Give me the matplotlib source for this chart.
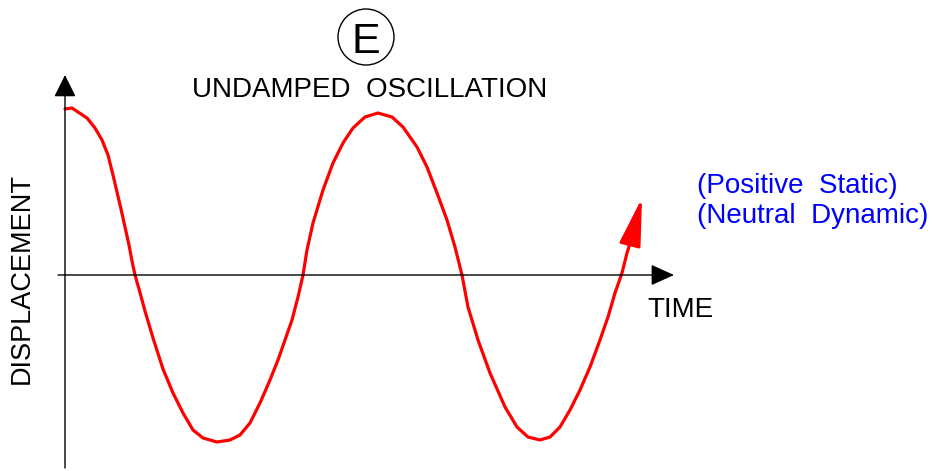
import matplotlib
matplotlib.use("Agg")
import matplotlib.pyplot as plt
from matplotlib.patches import Circle

plt.rcParams['font.family'] = ['Liberation Sans', 'DejaVu Sans']

# Curve (time, displacement), origin at the axis crossing
time = [0, 7, 13, 22, 30, 37, 43, 48, 52, 56, 60, 64, 67, 70, 74, 80, 88, 98,
        108, 118, 128, 138, 152, 165, 175, 185, 195, 205, 213, 220, 227, 233,
        238, 242, 248, 258, 268, 278, 288, 300, 313, 327, 338, 352, 362, 372,
        382, 390, 397, 403, 413, 425, 440, 452, 463, 475, 485, 495, 505, 515,
        525, 535, 543, 550, 557, 562, 567]
displacement = [166, 167, 163, 157, 147, 135, 120, 100, 83, 66, 48, 30, 14, 0,
                -14, -36, -63, -94, -118, -138, -155, -163, -167, -165, -160,
                -148, -128, -105, -85, -65, -45, -22, 0, 25, 52, 85, 112, 132,
                147, 158, 162, 158, 148, 128, 108, 82, 55, 28, 0, -32, -65, -98,
                -132, -152, -162, -165, -162, -152, -135, -115, -92, -65, -42,
                -18, 2, 22, 38]
arrow_tip = (577, 77)

title = "UNDAMPED  OSCILLATION"
badge = "E"
xlabel = "TIME"
ylabel = "DISPLACEMENT"
notes = ["(Positive  Static)", "(Neutral  Dynamic)"]

fig = plt.figure(figsize=(9.32, 4.71), dpi=100)
ax = fig.add_axes([0, 0, 1, 1])
ax.set_xlim(-65, 867)
ax.set_ylim(-196, 275)
ax.axis('off')

# axes with arrows
ax.annotate('', xy=(0, 200), xytext=(0, -193),
            arrowprops=dict(arrowstyle='-|>,head_length=1.37,head_width=0.68',
                            mutation_scale=10, color='black', lw=1.0,
                            shrinkA=0, shrinkB=0))
ax.annotate('', xy=(609, 0), xytext=(-7, 0),
            arrowprops=dict(arrowstyle='-|>,head_length=1.44,head_width=0.65',
                            mutation_scale=10, color='black', lw=1.0,
                            shrinkA=0, shrinkB=0))

# curve
ax.plot(time, displacement, color='red', lw=2.3, solid_joinstyle='round',
        solid_capstyle='round')
ax.annotate('', xy=arrow_tip, xytext=(time[-1], displacement[-1]),
            arrowprops=dict(arrowstyle='-|>,head_length=1.47,head_width=0.33',
                            mutation_scale=20, color='red', lw=2.3,
                            shrinkA=0, shrinkB=0))

# texts
ax.text(305, 178, title, fontsize=20, ha='center', va='baseline', color='black')
ax.text(301, 222, badge, fontsize=31, ha='center', va='baseline', color='black')
ax.add_patch(Circle((301, 238), 28, fill=False, lw=1.0, color='black'))
ax.text(582, -42, xlabel, fontsize=20, ha='left', va='baseline', color='black')
ax.text(-43, -3, ylabel, fontsize=19.5, ha='center', va='center',
        rotation=90, color='black')
ax.text(632, 82, notes[0], fontsize=20, ha='left', va='baseline', color='#0000ff')
ax.text(632, 52, notes[1], fontsize=20, ha='left', va='baseline', color='#0000ff')

fig.savefig('out.png', dpi=100)
